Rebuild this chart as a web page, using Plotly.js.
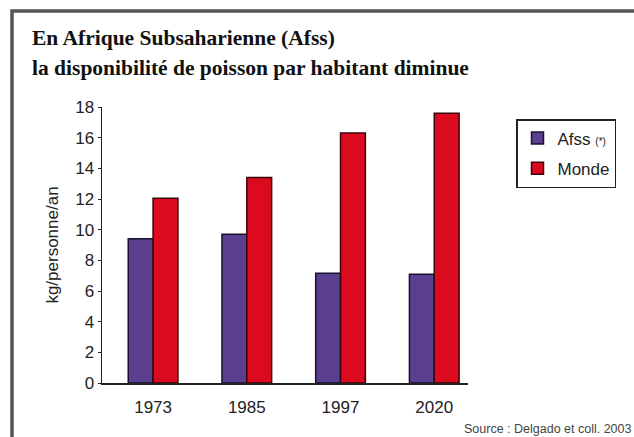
<!DOCTYPE html>
<html>
<head>
<meta charset="utf-8">
<script src="https://cdn.plot.ly/plotly-3.0.1.min.js"></script>
<style>html,body{margin:0;padding:0;background:#fff;}#chart{width:634px;height:437px;}</style>
</head>
<body>
<div id="chart"></div>
<script>
const years = ["1973", "1985", "1997", "2020"];
const afss = [9.4, 9.7, 7.15, 7.1];
const monde = [12.05, 13.4, 16.3, 17.6];
const yTicks = [0, 2, 4, 6, 8, 10, 12, 14, 16, 18];
const titleLines = ["En Afrique Subsaharienne (Afss)", "la disponibilité de poisson par habitant diminue"];
const yTitle = "kg/personne/an";
const sourceText = "Source : Delgado et coll. 2003";

const sans = "Liberation Sans, Arial, sans-serif";
const serif = "Liberation Serif, Times New Roman, serif";

const traces = [
  {type: "bar", x: years, y: afss, name: "Afss <span style='font-size:10px'>(*)</span>", legendgroup: "a",
   marker: {color: "#5b3f8f", line: {color: "#1a1030", width: 1.5}}},
  {type: "bar", x: years, y: monde, name: "Monde", legendgroup: "b",
   marker: {color: "#dc0a1e", line: {color: "#3a0508", width: 1.5}}}
];

const L = 102, R = 468, T = 107, B = 383, W = 634, H = 437;
const pw = R - L, ph = B - T;
const px = v => (v - L) / pw;
const py = v => (B - v) / ph;

const layout = {
  width: W, height: H,
  margin: {l: L, r: W - R, t: T, b: H - B, pad: 0},
  paper_bgcolor: "#fff", plot_bgcolor: "#fff",
  showlegend: true,
  barmode: "group", bargap: 0.47, bargroupgap: 0,
  font: {family: sans, color: "#222"},
  xaxis: {type: "category", range: [-0.545, 3.36], showline: true, linecolor: "#222", linewidth: 1.5,
    ticks: "", showgrid: false, zeroline: false, fixedrange: true, ticklabelstandoff: 8,
    tickfont: {size: 17, color: "#222", family: sans}},
  yaxis: {range: [0, 18], tickvals: yTicks, showline: true, linecolor: "#222", linewidth: 1.5,
    ticks: "outside", ticklen: 3, tickcolor: "#222", showgrid: false, zeroline: false, fixedrange: true,
    tickfont: {size: 17, color: "#222", family: sans},
    title: {text: yTitle, font: {size: 17, color: "#222", family: sans}, standoff: 12}},
  legend: {x: px(516), y: py(119), xanchor: "left", yanchor: "top",
    bordercolor: "#222", borderwidth: 1.5, bgcolor: "#fff",
    font: {size: 17, color: "#222", family: sans}, tracegroupgap: 5, traceorder: "grouped",
    itemwidth: 30},
  annotations: [
    {xref: "paper", yref: "paper", x: px(30), y: py(38), xanchor: "left", yanchor: "middle",
     text: "<b>" + titleLines[0] + "</b>", showarrow: false, font: {size: 21.5, family: serif, color: "#111"}},
    {xref: "paper", yref: "paper", x: px(30), y: py(68), xanchor: "left", yanchor: "middle",
     text: "<b>" + titleLines[1] + "</b>", showarrow: false, font: {size: 21.5, family: serif, color: "#111"}},
    {xref: "paper", yref: "paper", x: px(634), y: py(429), xanchor: "right", yanchor: "middle",
     text: sourceText, showarrow: false, font: {size: 12.5, family: sans, color: "#444"}}
  ],
  shapes: [
    {type: "rect", xref: "paper", yref: "paper", x0: px(12), y0: py(445), x1: px(645), y1: py(11),
     line: {color: "#555", width: 3.5}, fillcolor: "rgba(0,0,0,0)", layer: "below"}
  ]
};

Plotly.newPlot("chart", traces, layout, {displayModeBar: false, staticPlot: true});
</script>
</body>
</html>
